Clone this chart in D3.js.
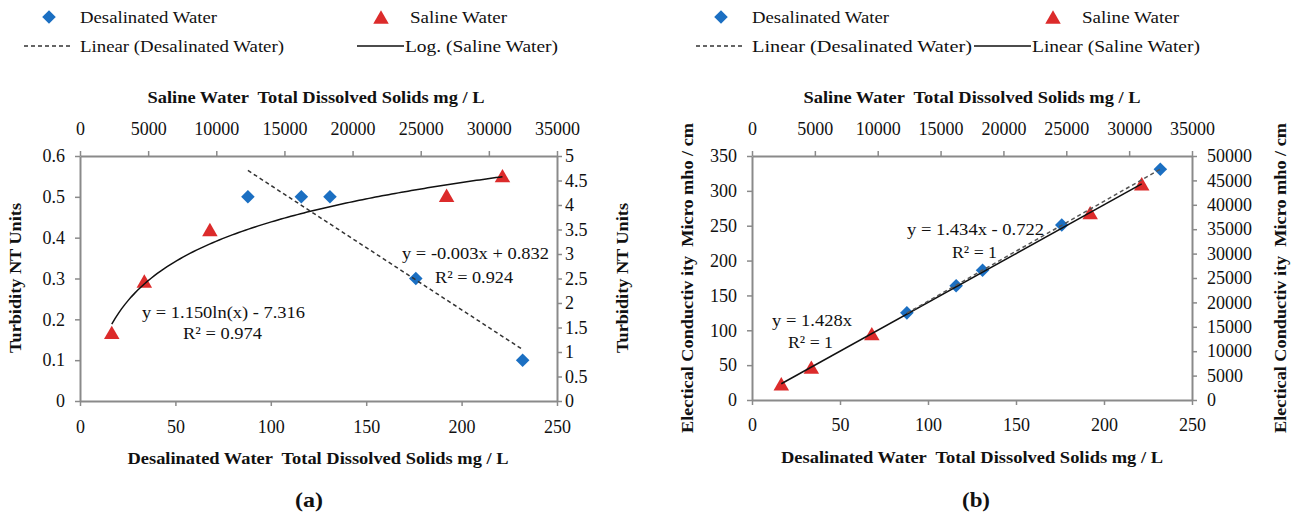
<!DOCTYPE html>
<html>
<head>
<meta charset="utf-8">
<script src="https://cdn.jsdelivr.net/npm/d3@7"></script>
<style>
    body { margin: 0; background: #ffffff; }
    svg { display: block; font-family: "Liberation Serif", "Times New Roman", serif; }
</style>
</head>
<body>
<div id="chart"></div>
<script>
// values
const desalTds = [88, 116, 131, 176, 232];
const desalTurbidity = [0.5, 0.5, 0.5, 0.3, 0.1];
const desalConductivity = [125, 164, 186, 251, 331];

const salineTds = [2330, 4720, 9530, 26900, 31000];
const salineTurbidity = [1.4, 2.45, 3.5, 4.2, 4.6];
const salineConductivity = [3330, 6740, 13600, 38400, 44300];

// tick labels
const desalTdsTicks = [0, 50, 100, 150, 200, 250];
const salineTdsTicks = [0, 5000, 10000, 15000, 20000, 25000, 30000, 35000];
const turbidityTicks = [0, 0.1, 0.2, 0.3, 0.4, 0.5, 0.6];
const salineTurbidityTicks = [0, 0.5, 1, 1.5, 2, 2.5, 3, 3.5, 4, 4.5, 5];
const conductivityTicks = [0, 50, 100, 150, 200, 250, 300, 350];
const salineConductivityTicks = [0, 5000, 10000, 15000, 20000, 25000, 30000, 35000, 40000, 45000, 50000];

const BLUE = '#1b6fc2';
const RED = '#dc2b2b';
const AXIS = '#8a8a8a';

const svg = d3.select('#chart')
    .append('svg')
    .attr('width', 1294)
    .attr('height', 518);

// least squares, the way the spreadsheet trendlines are made
function linearFit(xs, ys) {
    const mx = d3.mean(xs), my = d3.mean(ys);
    const sxy = d3.sum(xs, (x, i) => (x - mx) * (ys[i] - my));
    const sxx = d3.sum(xs, x => (x - mx) * (x - mx));
    const m = sxy / sxx;
    return x => m * x + (my - m * mx);
}
function logFit(xs, ys) {
    const f = linearFit(xs.map(Math.log), ys);
    return x => f(Math.log(x));
}

function label(g, x, y, str, width, opts = {}) {
    const t = g.append('text')
        .attr('x', x)
        .attr('y', y)
        .attr('dy', '0.35em')
        .attr('text-anchor', opts.anchor || 'start')
        .attr('font-size', opts.size || 17)
        .attr('font-weight', opts.bold ? 'bold' : 'normal')
        .attr('fill', '#111')
        .style('white-space', 'pre')
        .text(str);
    if (width) t.attr('textLength', width).attr('lengthAdjust', 'spacingAndGlyphs');
    if (opts.rotate) t.attr('transform', `rotate(-90 ${x} ${y})`);
    return t;
}

function styleAxis(g) {
    g.attr('font-size', 18).attr('font-family', '"Liberation Serif", "Times New Roman", serif');
    g.select('.domain').attr('stroke', AXIS).attr('stroke-width', 2);
    g.selectAll('.tick line').attr('stroke', AXIS).attr('stroke-width', 1.5);
    g.selectAll('.tick text').attr('fill', '#111');
}

function diamonds(g, xs, ys, sx, sy) {
    g.selectAll(null)
        .data(xs.map((x, i) => [x, ys[i]]))
        .enter()
        .append('path')
        .attr('d', d3.symbol(d3.symbolSquare, 92)())
        .attr('transform', d => `translate(${sx(d[0])},${sy(d[1])}) rotate(45)`)
        .attr('fill', BLUE);
}

function triangle(s) {
    const h = s * Math.sqrt(3) / 2;
    return `M0,${-h / 2}L${s / 2},${h / 2}L${-s / 2},${h / 2}Z`;
}

function triangles(g, xs, ys, sx, sy) {
    g.selectAll(null)
        .data(xs.map((x, i) => [x, ys[i]]))
        .enter()
        .append('path')
        .attr('d', triangle(15.5))
        .attr('transform', d => `translate(${sx(d[0])},${sy(d[1])})`)
        .attr('fill', RED);
}

function drawFrame(g, p) {
    const fmt = d3.format('~g');
    g.append('g')
        .attr('transform', `translate(0,${p.bottom})`)
        .call(d3.axisBottom(p.x).tickValues(desalTdsTicks).tickFormat(fmt)
            .tickSize(5).tickSizeOuter(0).tickPadding(p.padBottom))
        .call(styleAxis);
    g.append('g')
        .attr('transform', `translate(0,${p.top})`)
        .call(d3.axisTop(p.xTop).tickValues(salineTdsTicks).tickFormat(d3.format('d'))
            .tickSize(5).tickSizeOuter(0).tickPadding(15.6))
        .call(styleAxis);
    g.append('g')
        .attr('transform', `translate(${p.left},0)`)
        .call(d3.axisLeft(p.y).tickValues(p.yTicks).tickFormat(fmt)
            .tickSize(5).tickSizeOuter(0).tickPadding(10))
        .call(styleAxis);
    g.append('g')
        .attr('transform', `translate(${p.right},0)`)
        .call(d3.axisRight(p.yRight).tickValues(p.yRightTicks).tickFormat(fmt)
            .tickSize(5).tickSizeOuter(0).tickPadding(p.padRight))
        .call(styleAxis);
}

function legend(g, x0, second) {
    // x0 is the left edge of the plot
    diamonds(g, [0], [0], () => x0 - 31, () => 17);
    label(g, x0, 17, 'Desalinated Water', 137);
    triangles(g, [0], [0], () => x0 + 301, () => 17);
    label(g, x0 + 330, 17, 'Saline Water', 97);

    g.append('line')
        .attr('x1', x0 - 56).attr('x2', x0 - 7)
        .attr('y1', 46).attr('y2', 46)
        .attr('stroke', '#333').attr('stroke-width', 1.5)
        .attr('stroke-dasharray', '4,3');
    label(g, x0, 46, 'Linear (Desalinated Water)', second.firstWidth);

    g.append('line')
        .attr('x1', x0 + second.x1).attr('x2', x0 + second.x2)
        .attr('y1', 46).attr('y2', 46)
        .attr('stroke', '#111').attr('stroke-width', 1.5);
    label(g, x0 + second.x2 + 1, 46, second.text, second.width);
}

// ---------- (a) turbidity ----------
function drawTurbidity() {
    const g = svg.append('g');
    const p = {
        left: 80, right: 557, top: 156, bottom: 401,
        padBottom: 14.6, padRight: 3,
        yTicks: turbidityTicks, yRightTicks: salineTurbidityTicks
    };
    p.x = d3.scaleLinear().domain([0, 250]).range([p.left, p.right]);
    p.xTop = d3.scaleLinear().domain([0, 35000]).range([p.left, p.right]);
    p.y = d3.scaleLinear().domain([0, 0.6]).range([p.bottom, p.top]);
    p.yRight = d3.scaleLinear().domain([0, 5]).range([p.bottom, p.top]);

    drawFrame(g, p);

    diamonds(g, desalTds, desalTurbidity, p.x, p.y);
    triangles(g, salineTds, salineTurbidity, p.xTop, p.yRight);

    const logSaline = logFit(salineTds, salineTurbidity);
    const lo = d3.min(salineTds), hi = d3.max(salineTds);
    const xs = d3.range(0, 121).map(i => lo + i / 120 * (hi - lo));
    g.append('path')
        .attr('d', d3.line().x(d => p.xTop(d)).y(d => p.yRight(logSaline(d)))(xs))
        .attr('fill', 'none')
        .attr('stroke', '#111')
        .attr('stroke-width', 1.5);

    const linDesal = linearFit(desalTds, desalTurbidity);
    g.append('path')
        .attr('d', d3.line().x(d => p.x(d)).y(d => p.y(linDesal(d)))(d3.extent(desalTds)))
        .attr('fill', 'none')
        .attr('stroke', '#333')
        .attr('stroke-width', 1.5)
        .attr('stroke-dasharray', '4,3');

    label(g, 142, 312, 'y = 1.150ln(x) - 7.316', 163);
    label(g, 183, 333, 'R² = 0.974', 79);
    label(g, 402, 253, 'y = -0.003x + 0.832', 147);
    label(g, 435, 277, 'R² = 0.924', 78);

    label(g, 316, 97, 'Saline Water  Total Dissolved Solids mg / L', 337, { anchor: 'middle', bold: true });
    label(g, 318, 458, 'Desalinated Water  Total Dissolved Solids mg / L', 381, { anchor: 'middle', bold: true });
    label(g, 15, 278, 'Turbidity NT Units', 150, { anchor: 'middle', bold: true, rotate: true });
    label(g, 622, 278, 'Turbidity NT Units', 150, { anchor: 'middle', bold: true, rotate: true });
    label(g, 309, 500, '(a)', 28, { anchor: 'middle', bold: true, size: 21 });

    legend(g, p.left, { firstWidth: 204, x1: 277, x2: 324, text: 'Log. (Saline Water)', width: 153 });
}

// ---------- (b) conductivity ----------
function drawConductivity() {
    const g = svg.append('g');
    const p = {
        left: 752, right: 1192, top: 156, bottom: 400,
        padBottom: 13.6, padRight: 10,
        yTicks: conductivityTicks, yRightTicks: salineConductivityTicks
    };
    p.x = d3.scaleLinear().domain([0, 250]).range([p.left, p.right]);
    p.xTop = d3.scaleLinear().domain([0, 35000]).range([p.left, p.right]);
    p.y = d3.scaleLinear().domain([0, 350]).range([p.bottom, p.top]);
    p.yRight = d3.scaleLinear().domain([0, 50000]).range([p.bottom, p.top]);

    drawFrame(g, p);

    diamonds(g, desalTds, desalConductivity, p.x, p.y);
    triangles(g, salineTds, salineConductivity, p.xTop, p.yRight);

    // saline trendline is forced through the origin
    const slope = d3.sum(salineTds, (x, i) => x * salineConductivity[i]) / d3.sum(salineTds, x => x * x);
    g.append('path')
        .attr('d', d3.line().x(d => p.xTop(d)).y(d => p.yRight(slope * d))(d3.extent(salineTds)))
        .attr('fill', 'none')
        .attr('stroke', '#111')
        .attr('stroke-width', 1.5);

    const linDesal = linearFit(desalTds, desalConductivity);
    g.append('path')
        .attr('d', d3.line().x(d => p.x(d)).y(d => p.y(linDesal(d)))(d3.extent(desalTds)))
        .attr('fill', 'none')
        .attr('stroke', '#555')
        .attr('stroke-width', 1.5)
        .attr('stroke-dasharray', '4,3');

    label(g, 907, 229, 'y = 1.434x - 0.722', 137);
    label(g, 952, 252, 'R² = 1', 45);
    label(g, 772, 320, 'y = 1.428x', 80);
    label(g, 788, 342, 'R² = 1', 45);

    label(g, 972, 97, 'Saline Water  Total Dissolved Solids mg / L', 337, { anchor: 'middle', bold: true });
    label(g, 972, 457, 'Desalinated Water  Total Dissolved Solids mg / L', 382, { anchor: 'middle', bold: true });
    label(g, 687, 278, 'Electical Conductiv ity  Micro mho / cm', 310, { anchor: 'middle', bold: true, rotate: true });
    label(g, 1280, 278, 'Electical Conductiv ity  Micro mho / cm', 310, { anchor: 'middle', bold: true, rotate: true });
    label(g, 976, 500, '(b)', 28, { anchor: 'middle', bold: true, size: 21 });

    legend(g, p.left, { firstWidth: 220, x1: 222, x2: 279, text: 'Linear (Saline Water)', width: 168 });
}

drawTurbidity();
drawConductivity();
</script>
</body>
</html>
